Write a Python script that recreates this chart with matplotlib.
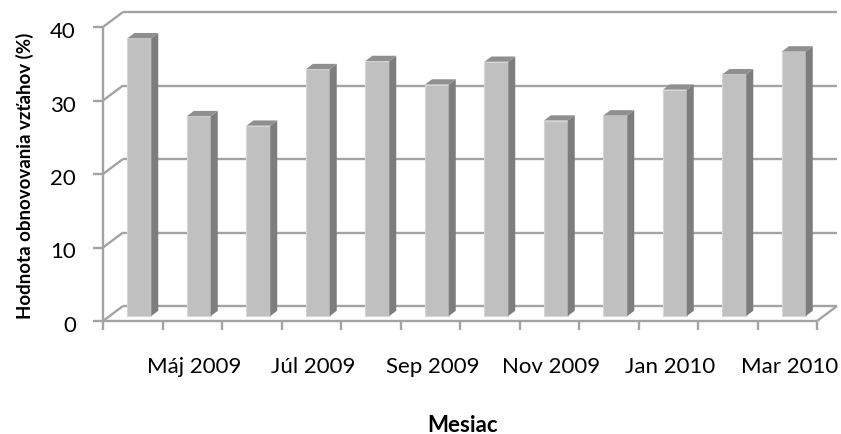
import matplotlib.pyplot as plt
from matplotlib.patches import Polygon

plt.rcParams['font.family'] = ['Lato', 'DejaVu Sans']

# hodnota obnovovania vzťahov podľa mesiaca
mesiace = ['Apr 2009', 'Máj 2009', 'Jún 2009', 'Júl 2009', 'Aug 2009', 'Sep 2009',
           'Okt 2009', 'Nov 2009', 'Dec 2009', 'Jan 2010', 'Feb 2010', 'Mar 2010']
hodnoty = [37.8, 27.2, 25.9, 33.6, 34.7, 31.5, 34.6, 26.6, 27.3, 30.8, 32.9, 36.0]
y_ticky = [0, 10, 20, 30, 40]

n = len(hodnoty)
PX = 1 / 59.5          # jeden pixel v jednotkách osi x
PY = 1 / 7.35          # jeden pixel v jednotkách osi y
HX, HY = 20 * PX, 15 * PY   # hĺbka 3D grafu
f0, f1 = 0.33, 0.68    # predná a zadná rovina stĺpcov
w = 0.40

fig = plt.figure(figsize=(8.41, 4.35), dpi=100)
ax = fig.add_axes([0, 0, 1, 1])
ax.set_xlim(-103 * PX, 738 * PX)
ax.set_ylim(-113 * PY, 322 * PY)
ax.axis('off')

grid = dict(color='#a3a3a3', lw=1.7, solid_capstyle='butt')

# zadná stena a bočná stena s mriežkou
for v in y_ticky:
    ax.plot([0, HX], [v, v + HY], **grid)
    ax.plot([HX, n + HX], [v + HY, v + HY], **grid)

# podlaha a osi
ax.plot([0, n], [0, 0], **grid)
ax.plot([n, n + HX], [0, HY], **grid)
ax.plot([0, 0], [0, y_ticky[-1]], **grid)
for v in y_ticky:
    ax.plot([-10 * PX, 0], [v, v], **grid)
    ax.text(-27 * PX, v - 10 * PY, str(v), ha='right', va='baseline', fontsize=16)
for i in range(n + 1):
    ax.plot([i, i], [0, -9 * PY], **grid)

# stĺpce
d = f1 - f0
for i, val in enumerate(hodnoty):
    x0 = i + 0.5 - w / 2 + f0 * HX
    base = f0 * HY
    ax.bar(x0, val, width=w, bottom=base, align='edge',
           color='#c0c0c0', edgecolor='#d6d6d6', lw=0.8, zorder=3)
    side = [(x0 + w, base), (x0 + w + d * HX, base + d * HY),
            (x0 + w + d * HX, base + val + d * HY), (x0 + w, base + val)]
    top = [(x0, base + val), (x0 + w, base + val),
           (x0 + w + d * HX, base + val + d * HY), (x0 + d * HX, base + val + d * HY)]
    ax.add_patch(Polygon(side, closed=True, fc='#7d7d7d', ec='none', zorder=3))
    ax.add_patch(Polygon(top, closed=True, fc='#8f8f8f', ec='none', zorder=3))

# popisy osi x (každý druhý mesiac)
for i in range(1, n, 2):
    ax.text(i + 0.5 + 0.1 * HX, -51 * PY, mesiace[i], ha='center', va='baseline',
            fontsize=16)

fig.text(25 / 841, 1 - 176 / 435, 'Hodnota obnovovania vzťahov (%)', rotation=90,
         ha='center', va='center', fontsize=13.5, fontweight='bold')
fig.text(463 / 841, 1 - 432 / 435, 'Mesiac', ha='center', va='baseline',
         fontsize=16, fontweight='bold')

fig.savefig('out.png', dpi=100)
